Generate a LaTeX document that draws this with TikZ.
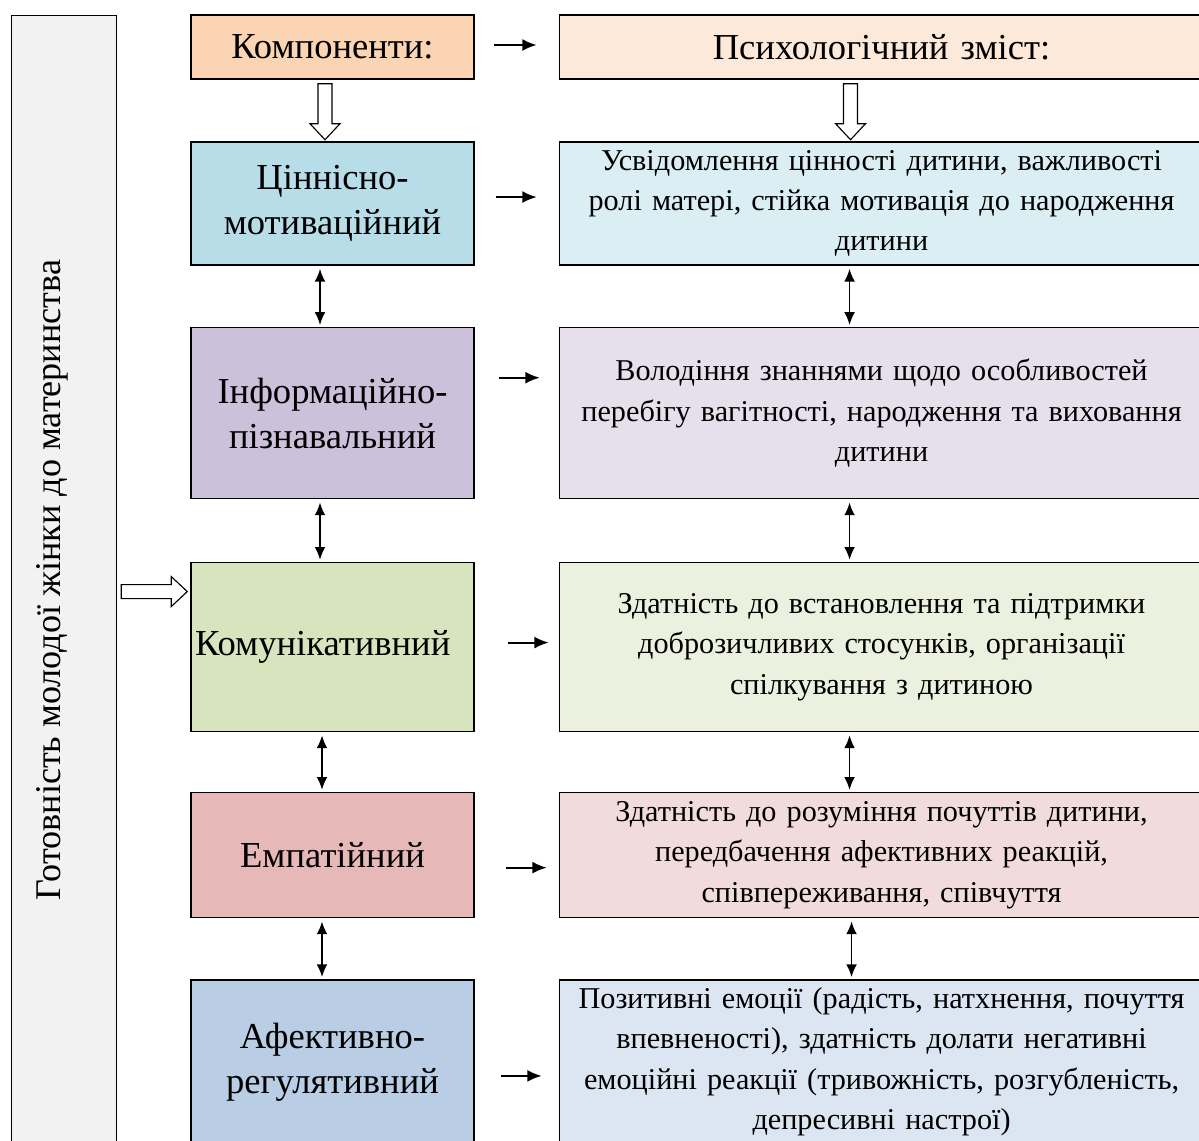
\documentclass[tikz,border=0pt]{standalone}
\usepackage{fontspec}
\setmainfont{Liberation Serif}
\usetikzlibrary{positioning,calc,arrows.meta}

\definecolor{hdrL}{HTML}{FBD4B4}
\definecolor{hdrR}{HTML}{FDE9D9}
\definecolor{cinnL}{HTML}{B7DDE8}
\definecolor{cinnR}{HTML}{DBEEF3}
\definecolor{infoL}{HTML}{CCC0DA}
\definecolor{infoR}{HTML}{E5E0EC}
\definecolor{komuL}{HTML}{D7E4BD}
\definecolor{komuR}{HTML}{EBF1DE}
\definecolor{empL}{HTML}{E6B9B8}
\definecolor{empR}{HTML}{F2DCDB}
\definecolor{afektL}{HTML}{B9CDE5}
\definecolor{afektR}{HTML}{DCE6F2}
\definecolor{gotovF}{HTML}{F2F2F2}

\tikzset{
  box/.style={draw, line width=1pt, rectangle, inner sep=2pt, align=center},
  lbox/.style={box, minimum width=7.075cm, font=\fontsize{26}{32}\selectfont},
  rbox/.style={box, minimum width=16.1cm, text width=15.8cm,
    font=\fontsize{21.5}{28.7}\selectfont},
  arr/.style={-{Latex[length=3.6mm,width=3mm]}, line width=1.5pt},
  darr/.style={{Latex[length=3.2mm,width=2.7mm]}-{Latex[length=3.2mm,width=2.7mm]},
    line width=1.3pt},
  blockarr/.pic={\draw[fill=white, line width=0.8pt]
    (0,-7) -- ({#1-16},-7) -- ({#1-16},-15) -- (#1,0)
    -- ({#1-16},15) -- ({#1-16},7) -- (0,7) -- cycle;}
}

\begin{document}
\begin{tikzpicture}[x=0.025cm, y=-0.025cm]
  \clip (0,0) rectangle (1199,1140);
  %outer box
  \node[draw, line width=1pt, fill=gotovF, minimum width=2.625cm,
        minimum height=28.5cm, anchor=north west] (gotov) at (11,15) {};
  \node[rotate=90, font=\fontsize{25.7}{30}\selectfont] (gotovtxt)
        at (52,580) {Готовність молодої жінки до материнства};
  %components
  \node[lbox, fill=hdrL, minimum height=1.6cm] (komp) at (332.5,47) {Компоненти:};
  \node[lbox, fill=cinnL, minimum height=3.075cm, below=1.54cm of komp] (cinn)
        {Ціннісно-\\мотиваційний};
  \node[lbox, fill=infoL, minimum height=4.275cm, below=1.53cm of cinn] (info)
        {Інформаційно-\\пізнавальний};
  \node[lbox, fill=komuL, minimum height=4.225cm, below=1.56cm of info] (komu)
        {Комунікативний\hspace{14pt}};
  \node[lbox, fill=empL, minimum height=3.125cm, below=1.49cm of komu] (emp)
        {Емпатійний};
  \node[lbox, fill=afektL, minimum height=4.1cm, below=1.52cm of emp] (afekt)
        {Афективно-\\регулятивний};
  %psychological content
  \node[rbox, fill=hdrR, minimum height=1.6cm, right=2.1cm of komp,
        font=\fontsize{26}{32}\selectfont] (psyh) {Психологічний зміст:};
  \node[rbox, fill=cinnR, minimum height=3.075cm, right=2.1cm of cinn] (usv)
        {Усвідомлення цінності дитини, важливості\\ролі матері, стійка мотивація до народження\\дитини};
  \node[rbox, fill=infoR, minimum height=4.275cm, right=2.1cm of info] (volod)
        {Володіння знаннями щодо особливостей\\перебігу вагітності, народження та виховання\\дитини};
  \node[rbox, fill=komuR, minimum height=4.225cm, right=2.1cm of komu] (zdat)
        {Здатність до встановлення та підтримки\\доброзичливих стосунків, організації\\спілкування з дитиною};
  \node[rbox, fill=empR, minimum height=3.125cm, right=2.1cm of emp] (rozum)
        {Здатність до розуміння почуттів дитини,\\передбачення афективних реакцій,\\співпереживання, співчуття};
  \node[rbox, fill=afektR, minimum height=4.1cm, right=2.1cm of afekt] (pozyt)
        {Позитивні емоції (радість, натхнення, почуття\\впевненості), здатність долати негативні\\емоційні реакції (тривожність, розгубленість,\\депресивні настрої)};
  %arrows to the right
  \draw[arr] ($(komp.east)+(19,-2)$) -- ($(psyh.west)+(-22,-2)$);
  \draw[arr] ($(cinn.east)+(21,-6.5)$) -- ($(usv.west)+(-22,-6.5)$);
  \draw[arr] ($(info.east)+(24,-35.5)$) -- ($(volod.west)+(-19,-35.5)$);
  \draw[arr] ($(komu.east)+(33,-4.5)$) -- ($(zdat.west)+(-10,-4.5)$);
  \draw[arr] ($(emp.east)+(31,12.5)$) -- ($(rozum.west)+(-12,12.5)$);
  \draw[arr] ($(afekt.east)+(26,14)$) -- ($(pozyt.west)+(-17,14)$);
  %arrows between rows
  \draw[darr] ($(cinn.south)+(-12.5,3)$) -- ($(info.north)+(-12.5,-2)$);
  \draw[darr] ($(info.south)+(-12.5,3)$) -- ($(komu.north)+(-12.5,-2)$);
  \draw[darr] ($(komu.south)+(-10.5,3)$) -- ($(emp.north)+(-10.5,-2)$);
  \draw[darr] ($(emp.south)+(-10.5,3)$) -- ($(afekt.north)+(-10.5,-2)$);
  \draw[darr] ($(usv.south)+(-32,3)$) -- ($(volod.north)+(-32,-2)$);
  \draw[darr] ($(volod.south)+(-32,3)$) -- ($(zdat.north)+(-32,-2)$);
  \draw[darr] ($(zdat.south)+(-32,3)$) -- ($(rozum.north)+(-32,-2)$);
  \draw[darr] ($(rozum.south)+(-30,3)$) -- ($(pozyt.north)+(-30,-2)$);
  %hollow arrows
  \pic[rotate=-90] at ($(komp.south)+(-7.5,4)$) {blockarr=56};
  \pic[rotate=-90] at ($(psyh.south)+(-31,4)$) {blockarr=56};
  \pic at ($(komu.west)+(-69,-55.5)$) {blockarr=66};
\end{tikzpicture}
\end{document}
